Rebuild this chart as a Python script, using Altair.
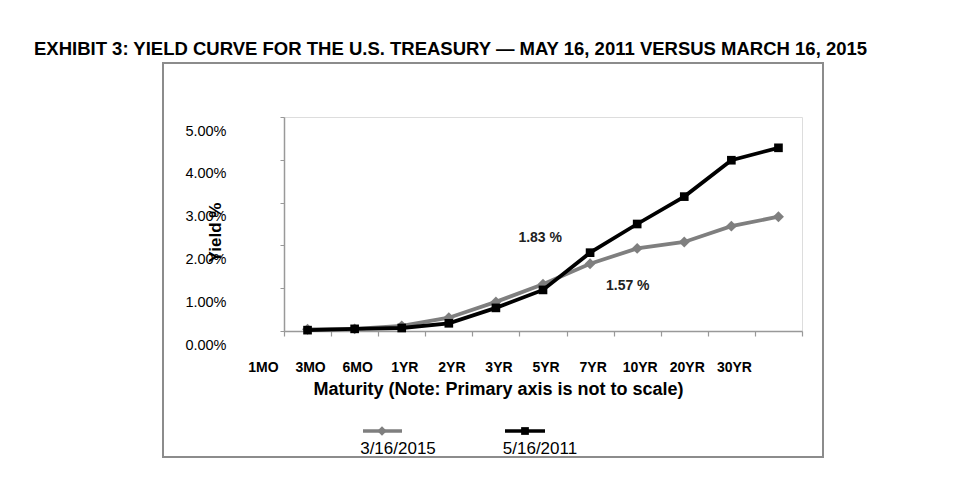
import altair as alt
import pandas as pd

# ---- data ----
maturities = ["1MO", "3MO", "6MO", "1YR", "2YR", "3YR", "5YR", "7YR", "10YR", "20YR", "30YR"]
yield_2015 = [0.04, 0.05, 0.12, 0.31, 0.68, 1.09, 1.57, 1.93, 2.08, 2.45, 2.67]
yield_2011 = [0.02, 0.05, 0.07, 0.18, 0.54, 0.96, 1.83, 2.50, 3.14, 3.99, 4.28]
series_names = ["3/16/2015", "5/16/2011"]
series_colors = ["#7f7f7f", "#000000"]
series_shapes = ["diamond", "square"]
annotation_labels = ["1.83 %", "1.57 %"]
annotation_x = [5.44, 7.30]
annotation_y = [2.17, 1.05]
y_ticks = [0, 1, 2, 3, 4, 5]

FONT = "Liberation Sans"

rows = []
for name, vals in zip(series_names, [yield_2015, yield_2011]):
    for i, (m, v) in enumerate(zip(maturities, vals)):
        rows.append({"series": name, "maturity": m, "pos": i + 0.5, "yld": v})
df = pd.DataFrame(rows)
ann = pd.DataFrame({"label": annotation_labels, "x": annotation_x, "y": annotation_y})

label_array = "[" + ",".join("'" + m + "'" for m in maturities) + "]"

x_scale = alt.Scale(domain=[0, len(maturities)], nice=False, zero=False)
y_scale = alt.Scale(domain=[0, 5], nice=False)

x_axis = alt.Axis(
    values=list(range(len(maturities) + 1)),
    labelExpr=label_array + "[datum.value] || ''",
    labelOffset=-21, labelPadding=24, labelFontSize=14, labelFontWeight="bold",
    labelColor="#000", labelAngle=0, labelFlush=False, labelOverlap=False, labelBound=False,
    tickSize=5, tickColor="#999", domainColor="#999", domainWidth=1.5, tickWidth=1.2,
    grid=False,
    title="Maturity (Note: Primary axis is not to scale)",
    titleFontSize=18, titleFontWeight="bold", titleColor="#000",
    titleX=214, titleY=58, titleAlign="center", titleBaseline="middle",
)
y_axis = alt.Axis(
    values=y_ticks,
    labelExpr="format(datum.value, '.2f') + '%'",
    labelOffset=14, labelPadding=54, labelFontSize=14.5, labelColor="#000",
    tickSize=4, tickColor="#999", domainColor="#999", domainWidth=1.5,
    grid=False,
    title="Yield %", titleFontSize=17, titleFontWeight="bold", titleColor="#000",
    titleX=-69, titleY=115, titleAngle=-90, titleAlign="center", titleBaseline="middle",
)

layers = []

# outer frame
layers.append(
    alt.Chart(pd.DataFrame({"k": [0]})).mark_rect(fill=None, stroke="#8c8c8c", strokeWidth=2).encode(
        x=alt.value(-121), x2=alt.value(539), y=alt.value(-54), y2=alt.value(340)
    )
)

for name, color, shape in zip(series_names, series_colors, series_shapes):
    base = alt.Chart(df).transform_filter(alt.datum.series == name)
    line = base.mark_line(color=color, strokeWidth=3.8).encode(
        x=alt.X("pos:Q", scale=x_scale, axis=x_axis),
        y=alt.Y("yld:Q", scale=y_scale, axis=y_axis),
    )
    pts = base.mark_point(shape=shape, filled=True, color=color, opacity=1,
                          size=120 if shape == "diamond" else 75).encode(
        x=alt.X("pos:Q", scale=x_scale),
        y=alt.Y("yld:Q", scale=y_scale),
    )
    layers += [line, pts]

layers.append(
    alt.Chart(ann).mark_text(font=FONT, fontSize=14, fontWeight="bold", color="#222").encode(
        x=alt.X("x:Q", scale=x_scale), y=alt.Y("y:Q", scale=y_scale), text="label:N"
    )
)

# manual legend (symbol above label)
legend_layout = [(79, 118, 98, 114), (221, 261, 241, 256)]
for name, color, shape, (lx1, lx2, sx, tx) in zip(series_names, series_colors, series_shapes, legend_layout):
    ldf = pd.DataFrame({"series": [name]})
    layers.append(alt.Chart(ldf).mark_rule(color=color, strokeWidth=3.5).encode(
        x=alt.value(lx1), x2=alt.value(lx2), y=alt.value(314)))
    layers.append(alt.Chart(ldf).mark_point(shape=shape, filled=True, color=color, opacity=1,
                                            size=90 if shape == "diamond" else 60).encode(
        x=alt.value(sx), y=alt.value(314)))
    layers.append(alt.Chart(ldf).mark_text(font=FONT, fontSize=17, color="#000").encode(
        x=alt.value(tx), y=alt.value(332), text="series:N"))

chart = alt.layer(*layers).properties(
    width=518, height=214,
    autosize=alt.AutoSizeParams(type="none"),
    padding={"left": 276, "top": 109, "right": 156, "bottom": 164},
    title=alt.TitleParams(
        "EXHIBIT 3: YIELD CURVE FOR THE U.S. TREASURY \u2014 MAY 16, 2011 VERSUS MARCH 16, 2015",
        anchor="start", frame="group", orient="top", dx=-250, offset=4,
        font=FONT, fontSize=18.5, fontWeight="bold", color="#000",
    ),
).configure_view(stroke=None).configure(font=FONT, background="white")

chart.save("out.html", embed_options={"renderer": "svg", "actions": False})
